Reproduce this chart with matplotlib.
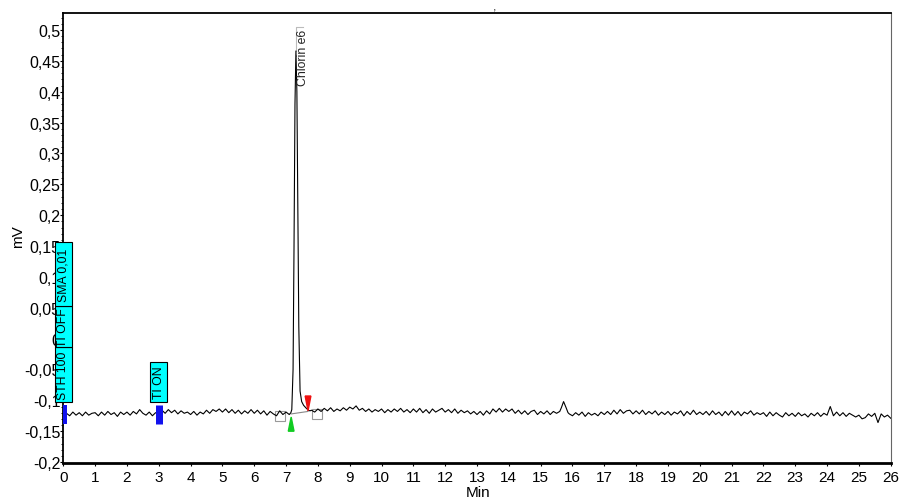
import numpy as np
import matplotlib.pyplot as plt
from matplotlib.patches import Rectangle, Polygon
from matplotlib.ticker import MultipleLocator, FuncFormatter

plt.rcParams['font.family'] = ['Liberation Sans', 'DejaVu Sans']

# detector signal (mV), one reading every 0.1 min from 0 to 26 min
sample_step = 0.1
baseline_mv = [
    -0.126, -0.121, -0.125, -0.119, -0.124, -0.120, -0.125, -0.119, -0.124, -0.121,  # 0
    -0.120, -0.125, -0.119, -0.124, -0.118, -0.123, -0.120, -0.126, -0.119, -0.123,  # 1
    -0.119, -0.124, -0.118, -0.122, -0.115, -0.121, -0.124, -0.119, -0.125, -0.120,  # 2
    -0.122, -0.116, -0.121, -0.115, -0.120, -0.116, -0.122, -0.117, -0.121, -0.119,  # 3
    -0.123, -0.118, -0.124, -0.119, -0.122, -0.116, -0.121, -0.115, -0.118, -0.114,  # 4
    -0.119, -0.114, -0.120, -0.115, -0.121, -0.116, -0.122, -0.117, -0.121, -0.115,  # 5
    -0.121, -0.116, -0.122, -0.117, -0.124, -0.118, -0.122, -0.125, -0.117, -0.123,  # 6
    -0.119, -0.123, -0.120, -0.120, -0.120, -0.120, -0.120, -0.120, -0.116, -0.119,  # 7
    -0.114, -0.118, -0.113, -0.117, -0.112, -0.118, -0.114, -0.117, -0.112, -0.116,  # 8
    -0.111, -0.114, -0.109, -0.116, -0.113, -0.118, -0.114, -0.119, -0.115, -0.118,  # 9
    -0.114, -0.120, -0.115, -0.119, -0.114, -0.118, -0.113, -0.119, -0.115, -0.120,  # 10
    -0.114, -0.119, -0.113, -0.120, -0.115, -0.121, -0.114, -0.119, -0.116, -0.113,  # 11
    -0.119, -0.115, -0.120, -0.114, -0.121, -0.116, -0.120, -0.117, -0.122, -0.118,  # 12
    -0.123, -0.118, -0.124, -0.117, -0.122, -0.114, -0.119, -0.113, -0.119, -0.114,  # 13
    -0.118, -0.114, -0.121, -0.116, -0.122, -0.117, -0.123, -0.118, -0.116, -0.123,  # 14
    -0.118, -0.122, -0.117, -0.123, -0.118, -0.121, -0.120, -0.120, -0.120, -0.120,  # 15
    -0.125, -0.120, -0.124, -0.119, -0.126, -0.120, -0.124, -0.121, -0.125, -0.119,  # 16
    -0.123, -0.118, -0.123, -0.116, -0.122, -0.115, -0.121, -0.117, -0.116, -0.122,  # 17
    -0.117, -0.122, -0.116, -0.123, -0.118, -0.122, -0.117, -0.124, -0.119, -0.123,  # 18
    -0.118, -0.124, -0.119, -0.122, -0.117, -0.125, -0.118, -0.123, -0.116, -0.123,  # 19
    -0.119, -0.123, -0.118, -0.124, -0.117, -0.123, -0.119, -0.125, -0.118, -0.124,  # 20
    -0.117, -0.124, -0.118, -0.125, -0.119, -0.122, -0.117, -0.124, -0.120, -0.123,  # 21
    -0.120, -0.126, -0.119, -0.125, -0.120, -0.124, -0.127, -0.120, -0.125, -0.121,  # 22
    -0.126, -0.120, -0.125, -0.122, -0.127, -0.121, -0.125, -0.120, -0.126, -0.121,  # 23
    -0.124, -0.110, -0.125, -0.119, -0.125, -0.120, -0.126, -0.121, -0.124, -0.127,  # 24
    -0.124, -0.130, -0.128, -0.122, -0.126, -0.121, -0.136, -0.122, -0.127, -0.124,  # 25
    -0.129,
]

# Chlorin e6 peak, read at finer resolution
peak_t = [7.15, 7.18, 7.22, 7.25, 7.28, 7.31, 7.34, 7.37, 7.40, 7.44, 7.49, 7.55, 7.62, 7.70, 7.75]
peak_mv = [-0.120, -0.115, -0.050, 0.150, 0.380, 0.466, 0.400, 0.200, 0.020, -0.085, -0.102, -0.108, -0.112, -0.116, -0.117]

# small peak near 15.7 min
small_t = [15.60, 15.65, 15.72, 15.80, 15.86, 15.90]
small_mv = [-0.118, -0.112, -0.102, -0.112, -0.120, -0.122]

peak_name = "Chlorin e6"
peak_start, peak_end = 7.16, 7.69
peak_base_mv = [-0.122, -0.118]
peak_apex_t = 7.30

# timed events: (time, [(label, bottom, top), ...])
event_boxes = [
    (0.0, [("STH 100", -0.1027, -0.0136), ("TI OFF", -0.0136, 0.0527), ("SMA 0,01", 0.0527, 0.1565)]),
    (3.0, [("TI ON", -0.1027, -0.038)]),
]
event_marks = [(0.04, 4), (3.0, 7)]  # time, width in px

t_base = np.arange(len(baseline_mv)) * sample_step
b = np.array(baseline_mv)
keep = ~(((t_base > 7.12) & (t_base < 7.78)) | ((t_base > 15.58) & (t_base < 15.92)))
t_all = np.concatenate([t_base[keep], peak_t, small_t])
v_all = np.concatenate([b[keep], peak_mv, small_mv])
order = np.argsort(t_all)
t_all, v_all = t_all[order], v_all[order]


def comma_fmt(v, pos):
    if abs(v) < 1e-9:
        return "0"
    return f"{v:.2f}".rstrip("0").rstrip(".").replace(".", ",")


fig = plt.figure(figsize=(9.03, 5.02), dpi=100)
ax = fig.add_axes([0.0701, 0.0751, 0.9163, 0.897])

ax.plot(t_all, v_all, color="black", lw=0.8, zorder=3)

ax.set_xlim(0, 26)
ax.set_ylim(-0.202, 0.5275)
ax.xaxis.set_major_locator(MultipleLocator(1))
ax.yaxis.set_major_locator(MultipleLocator(0.05))
ax.yaxis.set_minor_locator(MultipleLocator(0.01))
ax.yaxis.set_major_formatter(FuncFormatter(comma_fmt))
ax.tick_params(axis="x", which="major", labelsize=11, length=2, width=0.8, pad=3)
ax.tick_params(axis="y", which="major", labelsize=11.5, length=2, width=0.8, pad=0)
ax.tick_params(axis="y", which="minor", length=1.5, width=0.6)

for s in ["left", "top"]:
    ax.spines[s].set_linewidth(1.3)
ax.spines["bottom"].set_linewidth(2)
ax.spines["right"].set_color("#666666")
ax.spines["right"].set_linewidth(0.8)

fig.text(18 / 903, 1 - 237 / 502, "mV", rotation=90, ha="center", va="center", fontsize=11)
fig.text(478 / 903, 1 - 493 / 502, "Min", ha="center", va="center", fontsize=11)

# peak integration marks
ax.plot([peak_start, peak_end], peak_base_mv, color="#888888", lw=0.8, zorder=2)
ax.add_patch(Polygon([(peak_start - 0.09, -0.150), (peak_start + 0.09, -0.150), (peak_start, -0.127)],
                     closed=True, color="#11cc22", zorder=4))
ax.add_patch(Polygon([(peak_end - 0.09, -0.093), (peak_end + 0.09, -0.093), (peak_end, -0.117)],
                     closed=True, color="#ee1111", zorder=4))
ax.plot([6.80, 7.97], [-0.126, -0.122], ls="none", marker="s", ms=6.5, mfc="none", mec="#999999", mew=0.8, zorder=2)

# peak label
ax.plot([peak_apex_t, peak_apex_t, peak_apex_t + 0.24], [0.466, 0.5045, 0.5045], color="#bbbbbb", lw=0.8, zorder=2)
ax.text(peak_apex_t + 0.23, 0.501, peak_name, rotation=90, ha="center", va="top", fontsize=8.8, color="#222222")

# event boxes
for t, boxes in event_boxes:
    for label, lo, hi in boxes:
        ax.add_patch(Rectangle((t - 0.26, lo), 0.52, hi - lo, facecolor="#00ffff", edgecolor="black",
                               lw=0.8, clip_on=False, zorder=5))
        ax.text(t, (lo + hi) / 2, label, rotation=90, ha="center", va="center", fontsize=8.8,
                clip_on=False, zorder=6)

for t, wpx in event_marks:
    ax.plot([t, t], [-0.107, -0.139], color="#1111ee", lw=wpx * 0.72, solid_capstyle="butt",
            clip_on=False, zorder=5)

fig.text(0.548, 0.985, ",", fontsize=9, ha="center", va="center", color="#333333")

fig.savefig("out.png", dpi=100)
